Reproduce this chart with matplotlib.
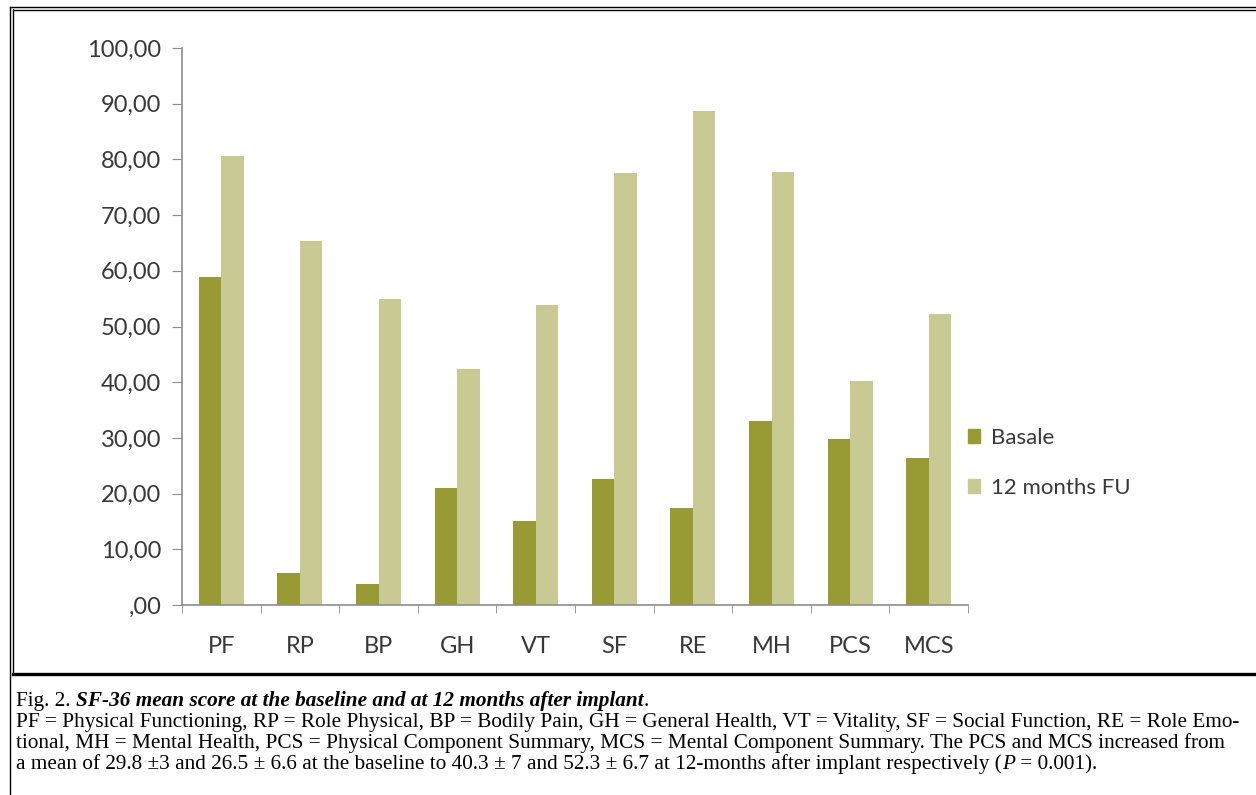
import matplotlib
matplotlib.use("Agg")
import matplotlib.pyplot as plt
import numpy as np
from matplotlib.lines import Line2D
from matplotlib.patches import Patch
from matplotlib.ticker import FuncFormatter

# data
categories = ["PF", "RP", "BP", "GH", "VT", "SF", "RE", "MH", "PCS", "MCS"]
basale = [58.9, 5.8, 3.7, 21.0, 15.0, 22.6, 17.5, 33.0, 29.8, 26.4]
months12 = [80.7, 65.4, 55.0, 42.4, 53.9, 77.6, 88.6, 77.8, 40.3, 52.2]
yticks = np.arange(0, 101, 10)

caption_lines = [
    "PF = Physical Functioning, RP = Role Physical, BP = Bodily Pain, GH = General Health, VT = Vitality, SF = Social Function, RE = Role Emo-",
    "tional, MH = Mental Health, PCS = Physical Component Summary, MCS = Mental Component Summary. The PCS and MCS increased from",
]

W, H = 1256, 795
dark = "#989a33"
light = "#c9c993"
tick_font = "Lato"
serif = "Liberation Serif"

fig = plt.figure(figsize=(W / 100, H / 100), dpi=100)
ax = fig.add_axes([182 / W, 1 - 605 / H, (968 - 182) / W, (605 - 48) / H])

x = np.arange(len(categories))
bw = 0.285
ax.bar(x - bw / 2, basale, bw, color=dark, label="Basale")
ax.bar(x + bw / 2, months12, bw, color=light, label="12 months FU")

ax.set_xlim(-0.5, len(categories) - 0.5)
ax.set_ylim(0, 100)
ax.set_yticks(yticks)
ax.yaxis.set_major_formatter(FuncFormatter(lambda v, p: ",00" if v == 0 else f"{v:.2f}".replace(".", ",")))
ax.set_xticks(x)
ax.set_xticklabels(categories)
ax.set_xticks(np.arange(len(categories) + 1) - 0.5, minor=True)
ax.tick_params(axis="x", which="major", length=0, pad=22)
ax.tick_params(axis="x", which="minor", length=6, color="#8c8c8c", direction="out")
ax.tick_params(axis="y", length=7, color="#8c8c8c", pad=8)
for lab in ax.get_xticklabels() + ax.get_yticklabels():
    lab.set_fontfamily(tick_font)
    lab.set_fontsize(17)
    lab.set_color("#383838")
for s in ["top", "right"]:
    ax.spines[s].set_visible(False)
for s in ["left", "bottom"]:
    ax.spines[s].set_color("#8c8c8c")
    ax.spines[s].set_linewidth(1.2)

handles = [Patch(color=dark), Patch(color=light)]
leg = fig.legend(handles, ["Basale", "12 months FU"], loc="center left",
                 bbox_to_anchor=(948 / W, 1 - 463 / H), frameon=False,
                 handlelength=0.55, handleheight=0.55, handletextpad=0.5,
                 labelspacing=1.35, prop={"family": tick_font, "size": 16})
for t in leg.get_texts():
    t.set_color("#383838")

# frame lines
def hline(y, x0, x1, lw):
    fig.add_artist(Line2D([x0 / W, x1 / W], [1 - y / H, 1 - y / H], color="black", lw=lw, transform=fig.transFigure))

def vline(xp, y0, y1, lw):
    fig.add_artist(Line2D([xp / W, xp / W], [1 - y0 / H, 1 - y1 / H], color="black", lw=lw, transform=fig.transFigure))

hline(7, 9.5, W, 1.0)
hline(9.8, 12.5, W, 1.0)
vline(10, 6.5, H, 1.0)
vline(12.8, 9.3, 673, 1.0)
hline(673.5, 12.5, W, 2.4)

# caption
renderer = fig.canvas.get_renderer()
fs = 15.3
x0 = 16

def piece(xp, y, s, **kw):
    t = fig.text(xp / W, 1 - y / H, s, fontsize=fs, family=serif, va="baseline", ha="left", **kw)
    bb = t.get_window_extent(renderer)
    return xp + bb.width

xp = piece(x0, 706, "Fig. 2. ")
xp = piece(xp, 706, "SF-36 mean score at the baseline and at 12 months after implant", style="italic", weight="bold")
piece(xp, 706, ".")
piece(x0, 727, caption_lines[0])
piece(x0, 748, caption_lines[1])
xp = piece(x0, 769, "a mean of 29.8 \u00b13 and 26.5 \u00b1 6.6 at the baseline to 40.3 \u00b1 7 and 52.3 \u00b1 6.7 at 12-months after implant respectively (")
xp = piece(xp, 769, "P", style="italic")
piece(xp, 769, " = 0.001).")

fig.savefig("out.png", dpi=100)
